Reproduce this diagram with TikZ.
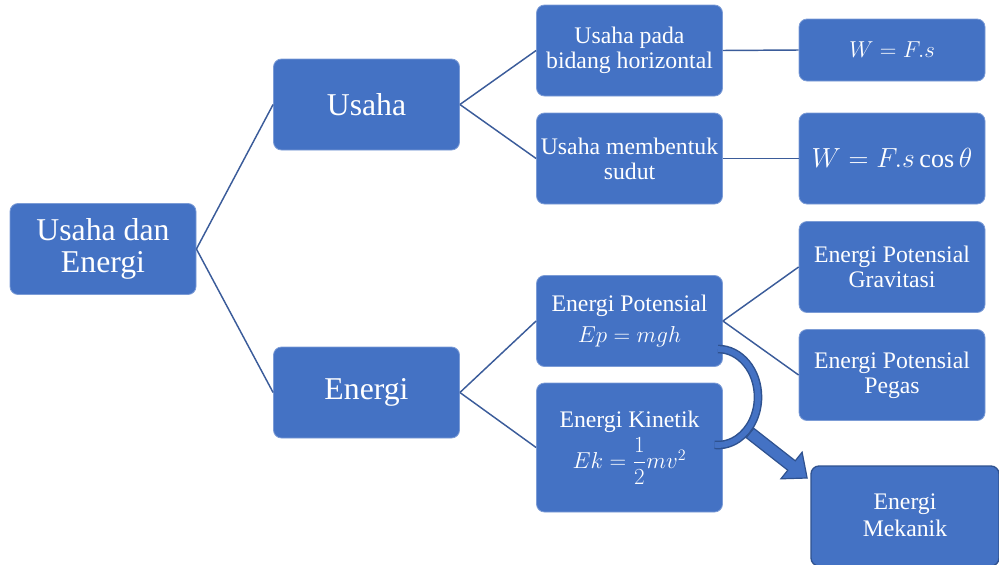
\documentclass[tikz,border=0pt]{standalone}
\usepackage{amsmath}
\usepackage{fontspec}
\setmainfont{Liberation Serif}
\definecolor{boxblue}{HTML}{4472C4}
\definecolor{linedark}{HTML}{3B5C9A}
\definecolor{edgedark}{HTML}{2F528F}
\begin{document}
\begin{tikzpicture}[x=0.75pt,y=-0.75pt,
  basebox/.style={rounded corners=6pt, fill=boxblue, draw=boxblue!70!white, line width=0.6pt,
    text=white, align=center, inner sep=0pt, minimum width=139.5pt, minimum height=68.25pt},
  bigbox/.style={basebox, font=\fontsize{23.8}{22.5}\selectfont},
  smallbox/.style={basebox, font=\fontsize{17.8}{18.75}\selectfont},
  mekbox/.style={smallbox, draw=edgedark, line width=1pt, minimum width=141pt, minimum height=75pt},
  conn/.style={draw=linedark, line width=1.1pt}]
\useasboundingbox (0,0) rectangle (999,564);
\clip (0,0) rectangle (999,564);
% nodes
\node[bigbox] (root) at (103,249) {\raisebox{-2pt}{Usaha dan}\\\raisebox{-3pt}{Energi}};
\node[bigbox] (usaha) at (366.5,104.5) {Usaha};
\node[bigbox] (energi) at (366.5,392.5) {Energi};
\node[smallbox] (uh) at (629.5,50.5) {Usaha pada\\bidang horizontal};
\node[smallbox] (us) at (629.5,158.5) {Usaha membentuk\\sudut};
\node[smallbox, minimum height=46.5pt] (f1) at (892,50) {$W = F.s$};
\node[smallbox, font=\fontsize{19.6}{21}\selectfont] (f2) at (892,158.5) {$W = F.s\cos\theta$};
\node[smallbox] (ep) at (629.5,321) {\raisebox{4pt}{Energi Potensial}\\$Ep = mgh$};
\node[smallbox, minimum height=96.75pt] (ek) at (629.5,447.5) {\raisebox{4pt}{Energi Kinetik}\\[3pt]$Ek=\dfrac{1}{2}mv^2$};
\node[smallbox] (epg) at (892,267) {Energi Potensial\\Gravitasi};
\node[smallbox] (epp) at (892,375) {Energi Potensial\\Pegas};
\node[mekbox] (em) at (905,516) {\raisebox{2pt}{Energi}\\[1.5pt]\raisebox{2pt}{Mekanik}};
% connectors
\draw[conn] (root.east) -- (usaha.west);
\draw[conn] (root.east) -- (energi.west);
\draw[conn] (usaha.east) -- (uh.west);
\draw[conn] (usaha.east) -- (us.west);
\draw[conn] (uh.east) -- (f1.west);
\draw[conn] (us.east) -- (f2.west);
\draw[conn] (energi.east) -- (ep.west);
\draw[conn] (energi.east) -- (ek.west);
\draw[conn] (ep.east) -- (epg.west);
\draw[conn] (ep.east) -- (epp.west);
% curved arrow
\coordinate (arcstart) at (718,349);
\draw[edgedark, line width=6.5pt] (arcstart) arc[start angle=-90, end angle=95, x radius=40, y radius=48];
\draw[boxblue, line width=4.3pt] (arcstart) arc[start angle=-90, end angle=95, x radius=40, y radius=48];
\draw[fill=boxblue, draw=edgedark, line width=0.9pt]
  (753.75,428.3) -- (795.25,460.8) -- (802.1,452.2) -- (807.1,478) -- (780.9,478.8) -- (787.75,470.2) -- (746.25,437.7) -- cycle;
\end{tikzpicture}
\end{document}
